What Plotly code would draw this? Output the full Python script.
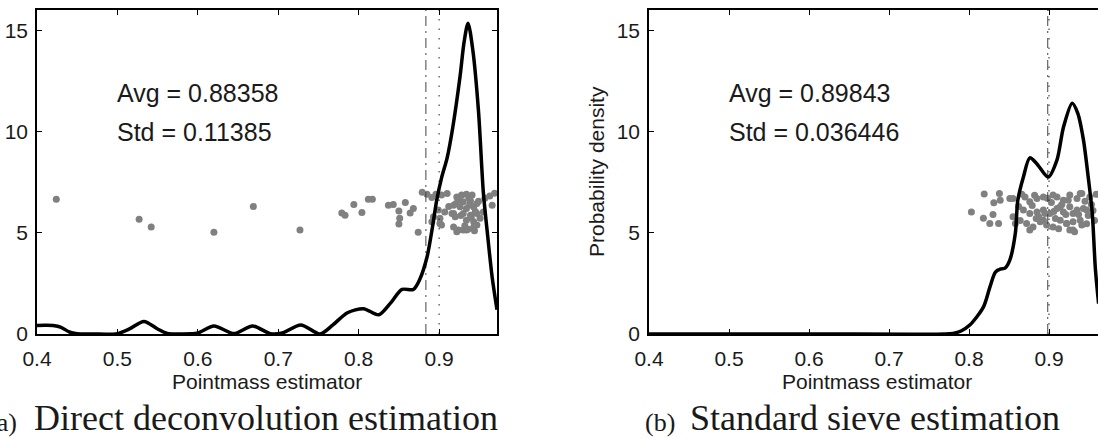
import plotly.graph_objects as go

# ---------------- data ----------------
x_ticks = [0.4, 0.5, 0.6, 0.7, 0.8, 0.9]
y_ticks = [0, 5, 10, 15]

avg_a, std_a = 0.88358, 0.11385
avg_b, std_b = 0.89843, 0.036446
true_value = 0.9

# density curve (a) direct deconvolution
curve_a_x = [0.400, 0.410, 0.420, 0.430, 0.440, 0.450, 0.470, 0.500, 0.515, 0.533, 0.550,
             0.562, 0.580, 0.600, 0.620, 0.645, 0.668, 0.690, 0.705, 0.728, 0.752,
             0.768, 0.786, 0.806, 0.825, 0.839, 0.854, 0.868, 0.876, 0.885, 0.891,
             0.897, 0.903, 0.910, 0.917, 0.926, 0.931, 0.936, 0.942, 0.949, 0.955,
             0.960, 0.966, 0.972]
curve_a_y = [0.42, 0.43, 0.42, 0.33, 0.10, 0.01, 0.0, 0.02, 0.25, 0.62, 0.25,
             0.03, 0.0, 0.05, 0.40, 0.02, 0.40, 0.02, 0.05, 0.45, 0.0,
             0.45, 1.05, 1.25, 0.95, 1.5, 2.2, 2.2, 2.7, 3.8, 5.1,
             6.6, 7.7, 8.7, 10.2, 12.7, 14.4, 15.35, 14.0, 11.0, 7.0,
             5.0, 2.8, 1.2]

# density curve (b) standard sieve
curve_b_x = [0.400, 0.600, 0.770, 0.780, 0.790, 0.801, 0.818, 0.826, 0.833, 0.839,
             0.845, 0.851, 0.858, 0.861, 0.868, 0.876, 0.885, 0.899, 0.910, 0.918,
             0.929, 0.936, 0.943, 0.949, 0.954, 0.958, 0.962]
curve_b_y = [0.0, 0.0, 0.0, 0.03, 0.15, 0.44, 1.33, 2.3, 3.06, 3.2,
             3.25, 3.65, 5.0, 6.6, 7.75, 8.7, 8.4, 7.75, 8.6, 10.2,
             11.4, 10.9, 9.6, 7.75, 6.0, 3.2, 1.5]

# individual estimates (a)
pts_a_x = [0.424, 0.527, 0.542, 0.620, 0.669, 0.727,
           0.779, 0.783, 0.794, 0.804, 0.812, 0.817, 0.837, 0.843, 0.850, 0.851,
           0.850, 0.858, 0.864, 0.868, 0.874, 0.879,
           0.885, 0.891, 0.896, 0.903, 0.910, 0.922, 0.928, 0.934, 0.941, 0.930,
           0.939, 0.947, 0.926, 0.934, 0.943, 0.918, 0.899, 0.907, 0.916, 0.920,
           0.930, 0.939, 0.947, 0.955, 0.934, 0.943, 0.951, 0.893, 0.891, 0.901,
           0.918, 0.924, 0.930, 0.936, 0.943, 0.947, 0.963, 0.957, 0.901, 0.903,
           0.918, 0.922, 0.934, 0.943, 0.966, 0.925, 0.937, 0.945, 0.932, 0.940,
           0.921, 0.949, 0.912, 0.927, 0.938, 0.944, 0.969]
pts_a_y = [6.66, 5.67, 5.28, 5.03, 6.30, 5.13,
           5.97, 5.87, 6.40, 6.00, 6.66, 6.66, 6.36, 6.40, 6.07, 5.72,
           5.43, 6.50, 5.97, 6.20, 5.03, 7.00,
           6.90, 6.74, 6.90, 6.86, 6.94, 6.77, 6.86, 6.90, 6.86, 6.53,
           6.58, 6.45, 6.28, 6.20, 6.28, 6.36, 6.12, 6.03, 5.95, 5.79,
           5.95, 5.87, 5.95, 6.03, 5.62, 5.54, 5.71, 5.79, 5.54, 5.46,
           5.29, 5.13, 5.13, 5.17, 5.29, 5.38, 6.81, 6.70, 5.71, 5.38,
           5.95, 5.05, 5.13, 6.28, 6.36, 6.62, 6.72, 6.05, 5.35, 5.75,
           6.45, 6.55, 6.30, 5.85, 6.40, 5.10, 6.95]

# individual estimates (b)
pts_b_x = [0.803, 0.819, 0.818, 0.831, 0.830, 0.838, 0.839, 0.826, 0.837, 0.851,
           0.855, 0.855, 0.858, 0.870, 0.876, 0.885, 0.893, 0.868, 0.876, 0.885,
           0.893, 0.901, 0.872, 0.880, 0.889, 0.897, 0.876, 0.910, 0.918, 0.926,
           0.935, 0.941, 0.910, 0.918, 0.926, 0.935, 0.943, 0.914, 0.922, 0.930,
           0.939, 0.926, 0.932, 0.905, 0.905, 0.939, 0.951, 0.895, 0.914, 0.930,
           0.947, 0.922, 0.930, 0.941, 0.893, 0.862, 0.864, 0.882, 0.887, 0.903,
           0.908, 0.916, 0.921, 0.945, 0.949, 0.953, 0.957, 0.959, 0.866, 0.879,
           0.898, 0.912, 0.937, 0.955, 0.884, 0.906, 0.924, 0.947]
pts_b_y = [6.03, 6.91, 5.71, 6.48, 5.90, 6.94, 6.60, 5.46, 5.46, 6.69,
           6.69, 5.79, 5.46, 6.77, 6.53, 6.69, 6.77, 6.12, 5.95, 6.03,
           6.12, 5.95, 5.46, 5.29, 5.54, 5.38, 5.13, 6.77, 6.61, 6.86,
           6.69, 6.94, 6.20, 6.03, 6.28, 6.12, 6.20, 5.62, 5.46, 5.54,
           5.62, 5.13, 5.05, 5.29, 6.86, 6.94, 6.77, 5.95, 6.28, 5.95,
           6.12, 5.46, 5.13, 5.38, 5.62, 6.30, 5.60, 6.85, 5.80, 6.50,
           5.70, 6.40, 5.90, 6.55, 5.85, 6.40, 5.60, 6.90, 6.90, 6.35,
           6.70, 5.20, 5.90, 6.10, 5.70, 6.05, 6.60, 5.45]

# ---------------- figure ----------------
W, H = 1098, 439
GREY = "#808080"
SANS = "Liberation Sans, Arial, sans-serif"
SERIF = "Liberation Serif, Times New Roman, serif"

fig = go.Figure()

def add_panel(xa, ya, px, py, cx, cy, avg):
    fig.add_trace(go.Scatter(x=px, y=py, mode="markers", xaxis=xa, yaxis=ya,
                             marker=dict(color=GREY, size=7, line=dict(width=0)),
                             showlegend=False, hoverinfo="skip"))
    fig.add_trace(go.Scatter(x=[avg, avg], y=[0, 16], mode="lines", xaxis=xa, yaxis=ya,
                             line=dict(color="#444444", width=1, dash="10px,5px,2px,5px"),
                             showlegend=False, hoverinfo="skip"))
    fig.add_trace(go.Scatter(x=[true_value, true_value], y=[0, 16], mode="lines",
                             xaxis=xa, yaxis=ya,
                             line=dict(color="#222222", width=1, dash="1.5px,8px"),
                             showlegend=False, hoverinfo="skip"))
    fig.add_trace(go.Scatter(x=cx, y=cy, mode="lines", xaxis=xa, yaxis=ya,
                             line=dict(color="black", width=3.5, shape="spline", smoothing=0.8),
                             showlegend=False, hoverinfo="skip"))

add_panel("x", "y", pts_a_x, pts_a_y, curve_a_x, curve_a_y, avg_a)
add_panel("x2", "y2", pts_b_x, pts_b_y, curve_b_x, curve_b_y, avg_b)

ydom = [1 - 334 / H, 1 - 10 / H]
axis_common = dict(showgrid=False, zeroline=False, showline=True, linecolor="black",
                   linewidth=1.5, ticks="inside", ticklen=5, tickwidth=1,
                   automargin=False,
                   tickcolor="black", tickfont=dict(family=SANS, size=21, color="#1a1a1a"))

fig.update_layout(
    width=W, height=H, margin=dict(l=0, r=0, t=0, b=0, autoexpand=False),
    paper_bgcolor="white", plot_bgcolor="white",
    xaxis=dict(domain=[37 / W, 497 / W], range=[0.4, 0.972], anchor="y",
               tickvals=x_ticks, ticktext=[f"{v:.1f}" for v in x_ticks],
               mirror="ticks", ticklabelstandoff=5, **axis_common),
    yaxis=dict(domain=ydom, range=[0, 16], anchor="x", tickvals=y_ticks,
               mirror="ticks", ticklabelstandoff=3, **axis_common),
    xaxis2=dict(domain=[649 / W, 1.0], range=[0.4, 0.96125], anchor="y2",
                tickvals=x_ticks, ticktext=[f"{v:.1f}" for v in x_ticks],
                mirror="ticks", ticklabelstandoff=5, **axis_common),
    yaxis2=dict(domain=ydom, range=[0, 16], anchor="x2", tickvals=y_ticks,
                mirror=False, ticklabelstandoff=3, **axis_common),
)

ann = []
# stats text
for xa, ya, avg, std in [("x", "y", avg_a, std_a), ("x2", "y2", avg_b, std_b)]:
    ann.append(dict(x=0.497, y=11.9, xref=xa, yref=ya, text=f"Avg = {avg:g}",
                    showarrow=False, xanchor="left", yanchor="middle",
                    font=dict(family=SANS, size=25, color="#1a1a1a")))
    ann.append(dict(x=0.497, y=10.0, xref=xa, yref=ya, text=f"Std = {std:g}",
                    showarrow=False, xanchor="left", yanchor="middle",
                    font=dict(family=SANS, size=25, color="#1a1a1a")))
# axis titles
for cx in [267, 877]:
    ann.append(dict(x=cx / W, y=1 - 381 / H, xref="paper", yref="paper",
                    text="Pointmass estimator", showarrow=False,
                    xanchor="center", yanchor="middle",
                    font=dict(family=SANS, size=21, color="#1a1a1a")))
ann.append(dict(x=596 / W, y=1 - 172 / H, xref="paper", yref="paper",
                text="Probability density", showarrow=False, textangle=-90,
                xanchor="center", yanchor="middle",
                font=dict(family=SANS, size=21, color="#1a1a1a")))
# captions
ann.append(dict(x=19 / W, y=1 - 422 / H, xref="paper", yref="paper", text="(a)",
                showarrow=False, xanchor="right", yanchor="middle",
                font=dict(family=SERIF, size=26, color="#1a1a1a")))
ann.append(dict(x=32 / W, y=1 - 418 / H, xref="paper", yref="paper",
                text="Direct deconvolution estimation", showarrow=False,
                xanchor="left", yanchor="middle",
                font=dict(family=SERIF, size=36, color="#1a1a1a")))
ann.append(dict(x=643 / W, y=1 - 422 / H, xref="paper", yref="paper", text="(b)",
                showarrow=False, xanchor="left", yanchor="middle",
                font=dict(family=SERIF, size=26, color="#1a1a1a")))
ann.append(dict(x=688 / W, y=1 - 418 / H, xref="paper", yref="paper",
                text="Standard sieve estimation", showarrow=False,
                xanchor="left", yanchor="middle",
                font=dict(family=SERIF, size=36, color="#1a1a1a")))
fig.update_layout(annotations=ann)

fig.write_html("out.html")
